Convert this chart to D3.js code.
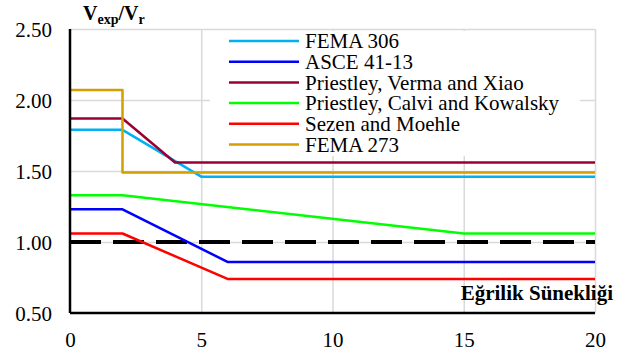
<!DOCTYPE html>
<html>
<head>
<meta charset="utf-8">
<script src="https://cdn.jsdelivr.net/npm/d3@7"></script>
<style>
  body { margin: 0; background: #fff; }
</style>
</head>
<body>
<div id="chart"></div>
<script>
// series data: [ductility, Vexp/Vr]
var fema306   = [[0, 1.79], [2, 1.79], [5, 1.46], [20, 1.46]];
var asce4113  = [[0, 1.23], [2, 1.23], [6, 0.86], [20, 0.86]];
var pvx       = [[0, 1.87], [2, 1.87], [4, 1.56], [20, 1.56]];
var pck       = [[0, 1.33], [2, 1.33], [15, 1.06], [20, 1.06]];
var sezen     = [[0, 1.06], [2, 1.06], [6, 0.74], [20, 0.74]];
var fema273   = [[0, 2.07], [2, 2.07], [2, 1.49], [20, 1.49]];
var refLine   = [[0, 1.0], [20, 1.0]];

var seriesNames = ["FEMA 306", "ASCE 41-13", "Priestley, Verma and Xiao",
                   "Priestley, Calvi and Kowalsky", "Sezen and Moehle", "FEMA 273"];
var seriesData = [fema306, asce4113, pvx, pck, sezen, fema273];
var seriesColors = ["#00b0f0", "#0000ff", "#990033", "#00ff00", "#ff0000", "#d49f00"];

var xTicks = [0, 5, 10, 15, 20];
var yTicks = [0.5, 1.0, 1.5, 2.0, 2.5];

var W = 626, H = 355;
var pLeft = 70, pRight = 595, pTop = 29, pBottom = 313;
var fontName = "'Liberation Serif'";

var svg = d3.select("#chart")
	.append("svg")
	.attr("width", W)
	.attr("height", H);

var x = d3.scaleLinear().domain([0, 20]).range([pLeft, pRight]);
var y = d3.scaleLinear().domain([0.5, 2.5]).range([pBottom, pTop]);

// gridlines
svg.append("g")
	.attr("transform", "translate(" + pLeft + ",0)")
	.call(d3.axisLeft(y).tickValues(yTicks.slice(1)).tickSize(-(pRight - pLeft)).tickFormat(""))
	.call(g => g.select(".domain").remove())
	.selectAll("line").attr("stroke", "#d9d9d9").attr("stroke-width", 1.5);

svg.append("g")
	.attr("transform", "translate(0," + pBottom + ")")
	.call(d3.axisBottom(x).tickValues(xTicks.slice(1)).tickSize(-(pBottom - pTop)).tickFormat(""))
	.call(g => g.select(".domain").remove())
	.selectAll("line").attr("stroke", "#d9d9d9").attr("stroke-width", 1.5);

// tick labels
var yAxis = svg.append("g")
	.attr("transform", "translate(" + pLeft + ",0)")
	.call(d3.axisLeft(y).tickValues(yTicks).tickSize(0).tickPadding(18).tickFormat(d3.format(".2f")));
yAxis.select(".domain").remove();
yAxis.attr("font-family", null);
yAxis.selectAll("text").attr("font-size", 21).attr("dy", "0.36em")
	.attr("fill", "#000").style("font-family", fontName);

var xAxis = svg.append("g")
	.attr("transform", "translate(0," + pBottom + ")")
	.call(d3.axisBottom(x).tickValues(xTicks).tickSize(0).tickPadding(19));
xAxis.select(".domain").remove();
xAxis.attr("font-family", null);
xAxis.selectAll("text").attr("font-size", 21).attr("fill", "#000").style("font-family", fontName);

// legend box (white, hides gridlines behind it)
svg.append("rect")
	.attr("x", 210).attr("y", 31)
	.attr("width", 370).attr("height", 125)
	.attr("fill", "#fff");

var line = d3.line().x(d => x(d[0])).y(d => y(d[1]));

// reference line at 1.0
svg.append("path")
	.attr("d", line(refLine))
	.attr("fill", "none")
	.attr("stroke", "#000")
	.attr("stroke-width", 4)
	.attr("stroke-dasharray", "31,12");

svg.selectAll(".series")
	.data(seriesData)
	.join("path")
	.attr("class", "series")
	.attr("d", d => line(d))
	.attr("fill", "none")
	.attr("stroke", (d, i) => seriesColors[i])
	.attr("stroke-width", 2.5)
	.attr("stroke-linejoin", "round");

// axes lines
svg.append("line")
	.attr("x1", pLeft).attr("x2", pLeft).attr("y1", pTop).attr("y2", pBottom)
	.attr("stroke", "#000").attr("stroke-width", 2.5);
svg.append("line")
	.attr("x1", pLeft).attr("x2", pRight).attr("y1", pBottom).attr("y2", pBottom)
	.attr("stroke", "#000").attr("stroke-width", 2.5);

// legend entries
var leg = svg.selectAll(".leg")
	.data(seriesNames)
	.join("g")
	.attr("class", "leg")
	.attr("transform", (d, i) => "translate(229," + (41 + i * 20.7) + ")");
leg.append("line")
	.attr("x1", 0).attr("x2", 70)
	.attr("stroke", (d, i) => seriesColors[i])
	.attr("stroke-width", 2.5);
leg.append("text")
	.attr("x", 76).attr("dy", "0.34em")
	.attr("font-size", 21)
	.style("font-family", fontName)
	.text(d => d);

// axis titles
var yt = svg.append("text")
	.attr("x", 83).attr("y", 20)
	.attr("font-size", 20).attr("font-weight", "bold")
	.style("font-family", fontName);
yt.append("tspan").text("V");
yt.append("tspan").attr("font-size", 14).attr("dy", 4).text("exp");
yt.append("tspan").attr("dy", -4).text("/V");
yt.append("tspan").attr("font-size", 14).attr("dy", 4).text("r");

svg.append("text")
	.attr("x", 613).attr("y", 300)
	.attr("text-anchor", "end")
	.attr("font-size", 21).attr("font-weight", "bold")
	.style("font-family", fontName)
	.text("Eğrilik Sünekliği");
</script>
</body>
</html>
